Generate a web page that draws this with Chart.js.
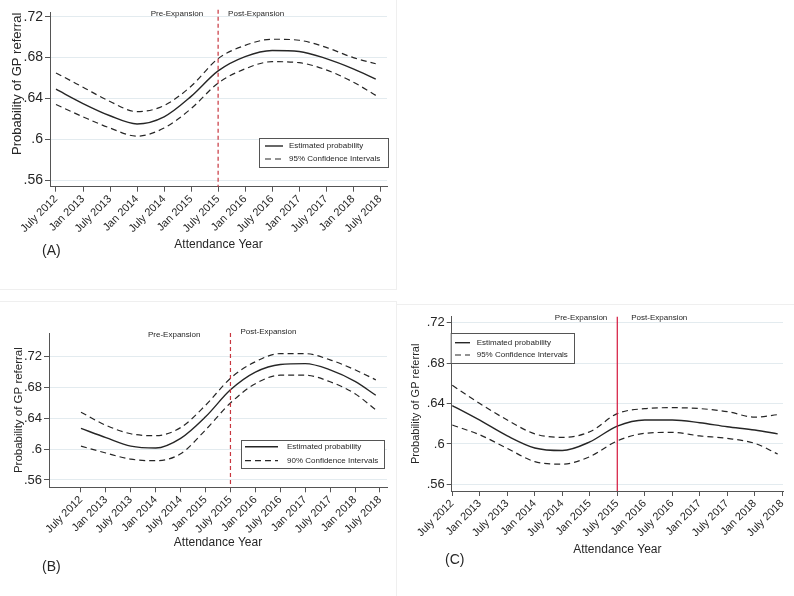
<!DOCTYPE html>
<html>
<head>
<meta charset="utf-8">
<script src="https://cdn.jsdelivr.net/npm/chart.js@4.4.0/dist/chart.umd.min.js"></script>
<style>
  body { margin: 0; background: #fff; width: 794px; height: 596px; position: relative; overflow: hidden; }
  canvas { position: absolute; }
  .frame { position: absolute; border: 1px solid #efefef; box-sizing: border-box; }
</style>
</head>
<body>
<div class="frame" style="left:-1px;top:-1px;width:398px;height:291px"></div>
<div class="frame" style="left:-1px;top:301px;width:398px;height:296px"></div>
<div class="frame" style="left:396px;top:304px;width:399px;height:293px"></div>
<canvas id="chart-a" width="398" height="290" style="left:0;top:0"></canvas>
<canvas id="chart-b" width="398" height="296" style="left:0;top:300px"></canvas>
<canvas id="chart-c" width="396" height="296" style="left:398px;top:300px"></canvas>
<script>
// ── Data (months since July 2012) ──────────────────────────────────────────
const months = [0, 6, 12, 18, 24, 30, 36, 42, 48, 54, 60, 66, 71];
const tickMonths = [0, 6, 12, 18, 24, 30, 36, 42, 48, 54, 60, 66, 72];
const tickLabels = ["July 2012", "Jan 2013", "July 2013", "Jan 2014", "July 2014", "Jan 2015",
  "July 2015", "Jan 2016", "July 2016", "Jan 2017", "July 2017", "Jan 2018", "July 2018"];
const yTicks = [0.56, 0.60, 0.64, 0.68, 0.72];
const expansionMonth = 36;

// (A)
const estA   = [0.649, 0.635, 0.623, 0.615, 0.622, 0.642, 0.667, 0.681, 0.687, 0.686, 0.679, 0.669, 0.659];
const upperA = [0.665, 0.651, 0.637, 0.627, 0.633, 0.652, 0.679, 0.692, 0.698, 0.697, 0.690, 0.680, 0.674];
const lowerA = [0.634, 0.622, 0.611, 0.603, 0.611, 0.630, 0.655, 0.669, 0.676, 0.675, 0.668, 0.656, 0.643];

// (B)
const estB   = [0.627, 0.615, 0.604, 0.6015, 0.614, 0.642, 0.677, 0.700, 0.710, 0.711, 0.703, 0.688, 0.670];
const upperB = [0.648, 0.631, 0.620, 0.6175, 0.628, 0.657, 0.692, 0.7135, 0.724, 0.724, 0.716, 0.703, 0.690];
const lowerB = [0.604, 0.595, 0.587, 0.585, 0.594, 0.625, 0.660, 0.685, 0.696, 0.696, 0.6875, 0.672, 0.651];

// (C)
const estC   = [0.638, 0.6235, 0.608, 0.596, 0.5935, 0.602, 0.6177, 0.6237, 0.6237, 0.621, 0.617, 0.6138, 0.610];
const upperC = [0.658, 0.640, 0.6237, 0.610, 0.6065, 0.612, 0.630, 0.635, 0.6359, 0.635, 0.632, 0.6265, 0.629];
const lowerC = [0.6187, 0.609, 0.5956, 0.5825, 0.580, 0.5874, 0.603, 0.6105, 0.6115, 0.608, 0.6055, 0.6006, 0.590];

// ── Helpers ────────────────────────────────────────────────────────────────

const FONT = '"Liberation Sans", Arial, sans-serif';
const INK = "#262626";

function pts(arr) { return months.map((m, i) => ({ x: m, y: arr[i] })); }

function fmtY(v) {
  return Number(v).toFixed(2).replace(/^0/, "").replace(/0$/, "");
}

// Expansion line, labels, boxed legend and panel letter
const overlay = {
  id: "overlay",
  afterDatasetsDraw(chart, args, o) {
    const { ctx, chartArea: a, scales: { x } } = chart;
    const px = x.getPixelForValue(expansionMonth);
    ctx.save();

    ctx.strokeStyle = o.lineColor;
    ctx.lineWidth = 1.2;
    ctx.setLineDash(o.lineDash);
    ctx.beginPath();
    ctx.moveTo(px, a.top - o.lineOver);
    ctx.lineTo(px, a.bottom);
    ctx.stroke();
    ctx.setLineDash([]);

    ctx.fillStyle = INK;
    ctx.font = `8px ${FONT}`;
    ctx.textBaseline = "middle";
    ctx.textAlign = "right";
    ctx.fillText("Pre-Expansion", px - o.preGap, a.top + o.preDy);
    ctx.textAlign = "left";
    ctx.fillText("Post-Expansion", px + o.postGap, a.top + o.postDy);

    // legend box
    const L = o.legend;
    ctx.fillStyle = "#fff";
    ctx.fillRect(L.x, L.y, L.w, L.h);
    ctx.strokeStyle = "#555";
    ctx.lineWidth = 1;
    ctx.strokeRect(L.x + 0.5, L.y + 0.5, L.w, L.h);
    [0, 1].forEach(i => {
      const ds = chart.data.datasets[i];
      const y = L.rows[i];
      ctx.strokeStyle = ds.borderColor;
      ctx.lineWidth = ds.borderWidth;
      ctx.setLineDash(ds.borderDash || []);
      ctx.beginPath();
      ctx.moveTo(L.x0, y);
      ctx.lineTo(L.x1, y);
      ctx.stroke();
      ctx.setLineDash([]);
      ctx.fillStyle = INK;
      ctx.font = `8px ${FONT}`;
      ctx.textAlign = "left";
      ctx.fillText(ds.label, L.tx, y);
    });

    ctx.font = `14px ${FONT}`;
    ctx.fillStyle = INK;
    ctx.textAlign = "left";
    ctx.fillText(o.letter, o.letterX, o.letterY);
    ctx.restore();
  }
};

function mkPanel(id, p) {
  const canvas = document.getElementById(id);
  const W = canvas.width, H = canvas.height;
  return new Chart(canvas.getContext("2d"), {
    type: "line",
    data: {
      datasets: [
        { label: "Estimated probability", data: pts(p.est), borderColor: INK, borderWidth: 1.4 },
        { label: p.ciLabel, data: pts(p.upper), borderColor: INK, borderWidth: 1.2, borderDash: [6, 4] },
        { label: p.ciLabel, data: pts(p.lower), borderColor: INK, borderWidth: 1.2, borderDash: [6, 4] },
      ],
    },
    options: {
      responsive: false,
      animation: false,
      events: [],
      elements: {
        point: { radius: 0 },
        line: { cubicInterpolationMode: "monotone", fill: false },
      },
      layout: {
        padding: { left: 0, top: p.top, right: W - p.right, bottom: H - p.bottom - p.xH },
      },
      plugins: {
        legend: { display: false },
        tooltip: { enabled: false },
        overlay: p.overlay,
      },
      scales: {
        x: {
          type: "linear",
          min: p.xMin, max: p.xMax,
          afterBuildTicks: s => { s.ticks = tickMonths.map(v => ({ value: v })); },
          afterFit: s => { s.height = p.xH; },
          ticks: {
            autoSkip: false, minRotation: 45, maxRotation: 45, padding: 1,
            color: INK, font: { family: FONT, size: 11 },
            callback: (v, i) => tickLabels[i],
          },
          grid: { drawOnChartArea: false, tickLength: 5, tickColor: "#555" },
          border: { color: "#555" },
          title: {
            display: true, text: "Attendance Year", color: INK,
            font: { family: FONT, size: p.xTitleSize }, padding: { top: 0, bottom: 0 },
          },
        },
        y: {
          min: p.yMin, max: p.yMax,
          afterBuildTicks: s => { s.ticks = yTicks.map(v => ({ value: v })); },
          afterFit: s => { s.width = p.left; },
          ticks: { color: INK, font: { family: FONT, size: p.yTickSize }, padding: 2, callback: v => fmtY(v) },
          grid: { color: "#e3ebef", tickLength: 5, tickColor: "#555" },
          border: { color: "#555" },
          title: {
            display: true, text: "Probability of GP referral", color: INK, align: p.yAlign,
            font: { family: FONT, size: p.yTitleSize }, padding: { top: p.yTitlePad, bottom: 0 },
          },
        },
      },
    },
    plugins: [overlay],
  });
}

// ── Panels ─────────────────────────────────────────────────────────────────

mkPanel("chart-a", {
  est: estA, upper: upperA, lower: lowerA, ciLabel: "95% Confidence Intervals",
  left: 50, right: 387, top: 12.7, bottom: 186.7, xH: 65,
  xMin: -1.33, xMax: 73.5, yMin: 0.5535, yMax: 0.724,
  yTickSize: 14, yTitleSize: 13, xTitleSize: 12, yTitlePad: 10, yAlign: "end",
  overlay: {
    lineColor: "#c8363f", lineDash: [4, 3], lineOver: 3,
    preGap: 15, preDy: 1.3, postGap: 10, postDy: 1.3,
    legend: { x: 259, y: 138, w: 129, h: 29, x0: 265, x1: 283, tx: 289, rows: [146, 159] },
    letter: "(A)", letterX: 42, letterY: 250.7,
  },
});

mkPanel("chart-b", {
  est: estB, upper: upperB, lower: lowerB, ciLabel: "90% Confidence Intervals",
  left: 49, right: 387, top: 33, bottom: 187.3, xH: 62.5,
  xMin: -7.7, xMax: 73.7, yMin: 0.5505, yMax: 0.7508,
  yTickSize: 13, yTitleSize: 11.5, xTitleSize: 12, yTitlePad: 12, yAlign: "center",
  overlay: {
    lineColor: "#c8363f", lineDash: [4, 3], lineOver: 0,
    preGap: 30, preDy: 2, postGap: 10, postDy: -1,
    legend: { x: 241, y: 140, w: 143, h: 28, x0: 245, x1: 278, tx: 287, rows: [146.7, 160.7] },
    letter: "(B)", letterX: 42, letterY: 266.7,
  },
});

mkPanel("chart-c", {
  est: estC, upper: upperC, lower: lowerC, ciLabel: "95% Confidence Intervals",
  left: 53.7, right: 385, top: 16.7, bottom: 191, xH: 65.8,
  xMin: -0.13, xMax: 72.16, yMin: 0.5534, yMax: 0.726,
  yTickSize: 13, yTitleSize: 11, xTitleSize: 12, yTitlePad: 11, yAlign: "center",
  overlay: {
    lineColor: "#d4163c", lineDash: [], lineOver: 0,
    preGap: 10, preDy: 1.3, postGap: 14, postDy: 1.3,
    legend: { x: 52.7, y: 33, w: 123.3, h: 30, x0: 57, x1: 72, tx: 78.7, rows: [42.7, 55] },
    letter: "(C)", letterX: 47, letterY: 260,
  },
});
</script>
</body>
</html>
